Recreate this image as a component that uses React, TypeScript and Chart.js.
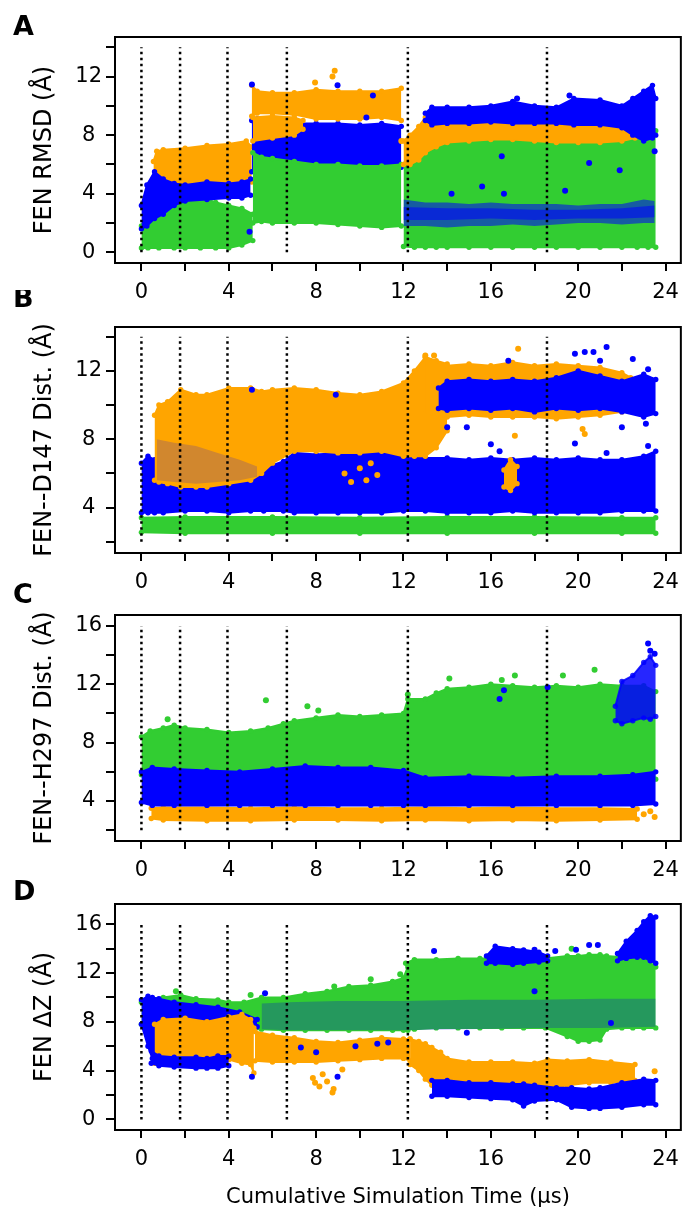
import { useEffect, useRef } from "react";
import { Chart, registerables } from "chart.js";

Chart.register(...registerables);

const FONT = '"DejaVu Sans", "Liberation Sans", sans-serif';
const BLUE = "#0000ff";
const BLUE_MIX = "rgba(0,0,255,0.55)";
const BLUE_DENSE = "rgba(0,0,255,0.85)";
const BLUE_STRIPE = "rgba(0,0,215,0.26)";
const ORANGE = "#ffa500";
const GREEN = "#32cd32";

// ---------------- shared axis data ----------------
const xRange = [-1.21, 24.7];
const xTicks = [0, 2, 4, 6, 8, 10, 12, 14, 16, 18, 20, 22, 24];
const xLabels = [0, 4, 8, 12, 16, 20, 24];
const dividers = [0, 1.77, 3.94, 6.66, 12.2, 18.57];

// ---------------- Panel A : FEN RMSD ----------------
const aYRange = [-0.73, 14.7];
const aYTicks = [0, 2, 4, 6, 8, 10, 12, 14];
const aYLabels = [0, 4, 8, 12];
const aSpan = [0, 14];
// [time, low, high]
const aGreen1 = [[0.0, 0.3, 1.8], [0.3, 0.3, 2.8], [0.8, 0.3, 3.0], [1.5, 0.3, 3.4], [2.0, 0.3, 3.5], [2.7, 0.3, 3.8], [3.4, 0.3, 3.4], [4.0, 0.3, 3.2], [4.6, 0.5, 3.0], [5.1, 0.8, 2.6]];
const aOrange1 = [[0.55, 4.6, 6.2], [0.7, 4.6, 6.9], [1.0, 4.6, 7.0], [2.0, 4.6, 7.1], [3.0, 4.6, 7.3], [4.0, 4.6, 7.4], [4.8, 4.6, 7.6], [5.05, 4.8, 7.2]];
const aBlue1 = [[0.0, 1.6, 3.2], [0.25, 1.8, 4.6], [0.6, 2.3, 5.5], [1.0, 2.6, 5.0], [1.5, 3.2, 4.7], [2.0, 3.5, 4.6], [3.0, 3.6, 4.8], [4.0, 3.7, 4.7], [4.6, 3.7, 4.8], [5.0, 3.9, 5.0]];
const aBlue2 = [[5.05, 5.5, 9.0], [5.3, 5.8, 9.1], [6.0, 5.8, 8.8], [7.0, 5.8, 8.8], [8.0, 5.8, 8.8], [9.0, 5.8, 8.8], [10.0, 5.8, 8.7], [11.0, 5.8, 8.8], [11.9, 5.8, 8.6]];
const aGreen2 = [[5.1, 2.0, 6.8], [5.5, 2.1, 6.5], [6.0, 2.0, 6.4], [7.0, 2.0, 6.2], [8.0, 2.0, 6.0], [9.0, 1.9, 6.0], [10.0, 1.8, 5.9], [11.0, 1.7, 5.9], [11.9, 1.8, 6.0]];
const aOrange2 = [[5.05, 9.3, 11.4], [5.3, 9.5, 11.0], [6.0, 9.5, 10.9], [7.0, 9.4, 10.9], [8.0, 9.1, 11.1], [9.0, 9.1, 11.0], [10.0, 9.1, 11.0], [11.0, 9.2, 11.0], [11.9, 9.0, 11.2]];
const aOrange3 = [[5.1, 7.6, 9.2], [6.0, 7.8, 9.3], [7.0, 8.0, 9.2], [7.4, 8.4, 9.0]];
const aGreen3 = [[12.0, 0.4, 6.0], [12.5, 0.35, 6.3], [13.0, 0.35, 6.8], [13.5, 0.35, 7.2], [14.0, 0.35, 7.5], [15.0, 0.35, 7.6], [16.0, 0.35, 7.7], [17.0, 0.35, 7.7], [18.0, 0.35, 7.6], [19.0, 0.35, 7.6], [20.0, 0.35, 7.5], [21.0, 0.35, 7.6], [22.0, 0.35, 7.6], [22.7, 0.35, 7.8], [23.2, 0.35, 8.5], [23.55, 0.35, 8.3]];
const aOrange4 = [[12.0, 6.0, 7.6], [12.3, 6.0, 8.0], [12.7, 6.3, 8.6], [13.0, 6.8, 9.2], [13.5, 7.2, 9.5], [14.0, 7.5, 9.0], [15.0, 7.6, 9.0], [16.0, 7.7, 9.0], [17.0, 7.7, 8.9], [18.0, 7.6, 8.9], [19.0, 7.5, 9.0], [20.0, 7.5, 8.9], [21.0, 7.5, 8.8], [22.0, 7.6, 8.8], [22.6, 7.8, 8.6]];
const aBlue3 = [[13.0, 9.0, 9.5], [13.3, 8.7, 9.9], [14.0, 8.8, 9.9], [15.0, 8.8, 9.9], [16.0, 8.9, 10.0], [17.0, 8.8, 10.3], [18.0, 8.8, 10.0], [19.0, 8.8, 9.9], [19.8, 8.7, 10.5], [21.0, 8.7, 10.4], [22.0, 8.5, 10.0], [22.5, 8.0, 10.5], [23.0, 7.6, 11.0], [23.4, 7.8, 11.4], [23.55, 8.0, 10.5]];
const aBlue4 = [[12.0, 1.8, 3.6], [13.0, 1.8, 3.4], [14.0, 1.7, 3.4], [15.0, 1.8, 3.3], [16.0, 1.8, 3.4], [17.0, 1.9, 3.3], [18.0, 1.8, 3.3], [19.0, 1.9, 3.3], [20.0, 2.0, 3.2], [21.0, 2.0, 3.3], [22.0, 1.9, 3.3], [23.0, 2.0, 3.6], [23.5, 2.0, 3.5]];
const aBlue4Core = [[12.0, 2.2, 3.1], [14.0, 2.2, 3.0], [16.0, 2.3, 3.0], [18.0, 2.2, 2.9], [20.0, 2.3, 2.9], [22.0, 2.3, 3.0], [23.5, 2.4, 3.2]];
// [time, value]
const aOrangePts = [[7.95, 11.6], [8.75, 12.0], [8.85, 12.4], [11.9, 7.6]];
const aBluePts = [[5.06, 11.45], [8.98, 11.4], [10.3, 9.2], [10.6, 10.7], [4.95, 1.4], [14.2, 4.0], [15.6, 4.5], [16.5, 6.55], [16.6, 4.0], [19.4, 4.2], [20.5, 6.1], [21.9, 5.6], [23.5, 6.9], [17.2, 10.5], [19.6, 10.7]];

// ---------------- Panel B : FEN--D147 ----------------
const bYRange = [1.34, 14.57];
const bYTicks = [2, 4, 6, 8, 10, 12, 14];
const bYLabels = [4, 8, 12];
const bSpan = [2, 14];
const bGreen = [[0.0, 2.55, 3.4], [2.0, 2.5, 3.45], [6.0, 2.5, 3.45], [10.0, 2.5, 3.4], [14.0, 2.5, 3.45], [18.0, 2.5, 3.45], [22.0, 2.5, 3.4], [23.55, 2.5, 3.4]];
const bBlue1 = [[0.0, 3.7, 6.6], [0.3, 3.7, 7.0], [0.6, 3.7, 6.8], [1.0, 3.7, 6.0], [2.0, 3.8, 5.6], [3.0, 3.8, 5.4], [4.0, 3.7, 5.6], [5.0, 3.8, 5.8], [5.6, 3.8, 6.3], [6.5, 3.8, 6.7], [7.0, 3.7, 7.2], [8.0, 3.7, 7.1], [9.0, 3.7, 7.2], [10.0, 3.7, 7.3], [11.0, 3.7, 7.2], [12.0, 3.8, 7.0], [13.0, 3.8, 6.9], [14.0, 3.7, 6.9], [15.0, 3.7, 6.8], [16.0, 3.7, 6.9], [17.0, 3.8, 6.8], [18.0, 3.7, 6.9], [19.0, 3.7, 6.8], [20.0, 3.7, 6.9], [21.0, 3.7, 6.8], [22.0, 3.8, 6.8], [23.0, 3.8, 7.0], [23.55, 3.8, 7.3]];
const bOrange1 = [[0.6, 5.6, 9.4], [0.8, 5.5, 10.0], [1.2, 5.4, 10.2], [1.8, 5.2, 10.9], [2.5, 5.2, 10.6], [3.0, 5.2, 10.6], [4.0, 5.4, 11.0], [5.0, 5.6, 11.0], [5.5, 6.0, 10.8], [6.0, 6.6, 10.9], [7.0, 7.3, 11.0], [8.0, 7.3, 10.9], [9.0, 7.2, 10.7], [10.0, 7.2, 10.6], [11.0, 7.3, 10.8], [12.0, 7.0, 11.3], [12.5, 7.0, 12.0], [13.0, 7.0, 12.8], [13.5, 7.5, 12.6], [14.0, 8.5, 12.4]];
const bBlueSpeck = [[0.7, 5.6, 8.0], [1.5, 5.5, 7.8], [2.5, 5.4, 7.6], [3.5, 5.5, 7.2], [4.5, 5.6, 6.8], [5.3, 5.8, 6.4]];
const bOrange2 = [[13.0, 9.5, 12.8], [14.0, 9.3, 12.3], [15.0, 9.4, 12.4], [16.0, 9.3, 12.3], [17.0, 9.3, 12.5], [18.0, 9.3, 12.3], [19.0, 9.2, 12.4], [20.0, 9.3, 12.3], [21.0, 9.4, 12.2], [22.0, 9.6, 11.9], [22.4, 9.8, 11.6]];
const bBlue2 = [[13.6, 9.8, 11.0], [14.0, 9.7, 11.4], [15.0, 9.8, 11.5], [16.0, 9.7, 11.4], [17.0, 9.8, 11.5], [18.0, 9.6, 11.4], [19.0, 9.8, 11.6], [20.0, 9.7, 12.0], [21.0, 9.8, 11.7], [22.0, 9.6, 11.4], [23.0, 9.3, 11.8], [23.55, 9.5, 11.5]];
const bOrange3 = [[16.6, 5.2, 6.2], [16.9, 5.0, 6.8], [17.2, 5.4, 6.4]];
const bBluePts = [[5.06, 10.9], [8.9, 10.6], [14.0, 8.7], [14.9, 8.7], [16.0, 7.7], [16.4, 7.3], [19.85, 7.75], [21.3, 7.2], [22.0, 8.7], [23.1, 8.9], [23.2, 7.6], [19.85, 13.0], [20.3, 13.1], [20.7, 13.1], [21.3, 13.4], [22.5, 12.7], [23.2, 12.1], [16.8, 12.6], [21.0, 12.6]];
const bOrangePts = [[17.1, 8.2], [20.2, 8.6], [20.3, 8.3], [17.25, 13.3], [13.0, 12.9], [13.4, 12.9], [9.3, 6.0], [9.6, 5.5], [10.0, 6.3], [10.3, 5.6], [10.5, 6.6], [10.8, 5.9]];

// ---------------- Panel C : FEN--H297 ----------------
const cYRange = [1.26, 16.75];
const cYTicks = [2, 4, 6, 8, 10, 12, 14, 16];
const cYLabels = [4, 8, 12, 16];
const cSpan = [2, 16];
const cOrange = [[0.45, 2.8, 3.5], [1.0, 2.7, 3.55], [3.0, 2.65, 3.55], [5.0, 2.65, 3.5], [7.0, 2.7, 3.55], [9.0, 2.7, 3.5], [11.0, 2.65, 3.5], [13.0, 2.7, 3.55], [15.0, 2.65, 3.5], [17.0, 2.7, 3.55], [19.0, 2.65, 3.5], [21.0, 2.7, 3.5], [22.7, 2.75, 3.45]];
const cGreen = [[0.0, 5.8, 8.4], [0.4, 5.8, 8.8], [1.0, 5.9, 9.0], [1.5, 5.9, 9.2], [2.0, 5.9, 9.0], [3.0, 5.9, 8.9], [4.0, 5.9, 8.7], [5.0, 5.9, 8.8], [5.8, 5.9, 9.0], [6.5, 5.9, 9.3], [7.0, 5.9, 9.5], [8.0, 5.9, 9.7], [9.0, 5.9, 9.9], [10.0, 5.9, 9.8], [11.0, 5.9, 9.9], [12.0, 5.9, 10.0], [12.2, 5.5, 11.0], [13.0, 5.5, 11.0], [13.5, 5.5, 11.4], [14.0, 5.5, 11.7], [15.0, 5.5, 11.8], [16.0, 5.5, 12.0], [17.0, 5.5, 11.9], [18.0, 5.5, 11.8], [19.0, 5.5, 11.9], [20.0, 5.5, 11.8], [21.0, 5.5, 12.0], [22.0, 5.5, 11.9], [23.0, 5.5, 11.9], [23.55, 5.5, 11.5]];
const cBlue1 = [[0.0, 3.9, 6.0], [0.5, 3.7, 6.3], [1.5, 3.7, 6.2], [3.0, 3.7, 6.1], [4.5, 3.7, 6.0], [6.0, 3.7, 6.2], [7.5, 3.7, 6.4], [9.0, 3.7, 6.3], [10.5, 3.7, 6.3], [12.0, 3.7, 6.1], [13.0, 3.7, 5.6], [15.0, 3.7, 5.7], [17.0, 3.7, 5.6], [19.0, 3.7, 5.7], [21.0, 3.7, 5.7], [22.5, 3.7, 5.8], [23.55, 3.8, 6.0]];
const cBlue2 = [[21.7, 9.5, 10.5], [22.0, 9.3, 12.2], [22.5, 9.5, 12.6], [23.0, 9.7, 13.5], [23.3, 9.6, 13.9], [23.55, 9.8, 13.3]];
const cGreenPts = [[1.2, 9.6], [5.7, 10.9], [7.6, 10.5], [8.1, 10.2], [14.1, 12.4], [16.5, 12.3], [17.1, 12.6], [19.3, 12.6], [20.75, 13.0], [12.2, 11.3]];
const cBluePts = [[23.2, 14.8], [23.3, 14.3], [23.5, 14.1], [16.6, 11.6], [16.4, 11.0], [18.6, 11.8]];
const cOrangePts = [[23.0, 3.1], [23.3, 3.3], [23.5, 2.9]];

// ---------------- Panel D : FEN dZ ----------------
const dYRange = [-0.87, 17.66];
const dYTicks = [0, 2, 4, 6, 8, 10, 12, 14, 16];
const dYLabels = [0, 4, 8, 12, 16];
const dSpan = [0, 16];
const dGreen1 = [[0.0, 7.8, 9.6], [0.3, 7.9, 9.9], [1.0, 8.5, 10.0], [1.8, 8.5, 10.2], [2.5, 8.5, 9.9], [3.5, 8.4, 9.8], [4.0, 8.0, 9.6], [4.7, 7.4, 9.6], [5.5, 7.4, 10.0], [6.5, 7.3, 10.0], [7.5, 7.3, 10.3], [8.5, 7.3, 10.5], [9.5, 7.3, 10.9], [10.5, 7.3, 11.0], [11.5, 7.3, 11.3], [12.0, 7.3, 11.6], [12.2, 7.3, 12.5]];
const dGreen2 = [[12.1, 7.4, 12.8], [12.5, 7.4, 13.1], [13.5, 7.5, 13.1], [14.5, 7.5, 13.2], [15.5, 7.5, 13.2], [16.5, 7.5, 13.2], [17.5, 7.5, 13.2], [18.5, 7.5, 13.2], [19.5, 6.8, 13.4], [20.0, 6.4, 13.4], [20.5, 6.4, 13.5], [21.0, 6.5, 13.5], [21.3, 7.4, 13.4], [22.0, 7.5, 13.3], [22.5, 7.5, 13.4], [23.0, 7.5, 13.3], [23.55, 7.5, 12.5]];
const dBlueStripes = [[5.5, 7.4, 9.5], [6.7, 7.3, 9.6], [9.0, 7.3, 9.7], [12.0, 7.3, 9.7], [15.0, 7.4, 9.8], [18.0, 7.5, 9.8], [21.0, 7.5, 9.9], [23.55, 7.6, 9.9]];
const dBlueTop1 = [[0.0, 7.8, 9.8], [0.3, 6.0, 10.1], [0.5, 5.0, 10.0], [0.8, 7.0, 9.9], [1.5, 7.8, 9.6], [2.5, 7.6, 9.4], [3.5, 7.8, 9.2], [4.5, 7.9, 8.8], [5.3, 7.6, 8.2]];
const dOrange1 = [[0.6, 4.6, 7.8], [1.0, 4.8, 8.2], [2.0, 5.0, 8.3], [3.0, 5.0, 8.0], [4.0, 4.9, 8.4], [4.6, 4.6, 8.6], [5.0, 4.5, 8.2], [5.15, 3.8, 7.5]];
const dOrange2 = [[5.2, 4.8, 7.2], [6.0, 4.7, 6.9], [7.0, 4.7, 6.7], [8.0, 4.7, 6.4], [9.0, 4.8, 6.3], [10.0, 4.9, 6.5], [11.0, 5.0, 6.7], [12.0, 5.0, 6.6], [12.3, 4.8, 6.6]];
const dOrange3 = [[12.3, 4.5, 6.6], [12.7, 4.0, 6.4], [13.0, 3.3, 6.2], [13.3, 2.8, 5.9], [13.7, 3.0, 5.5], [14.0, 3.0, 5.0], [15.0, 3.0, 4.7], [16.0, 3.1, 4.7], [17.0, 3.0, 4.7], [18.0, 2.9, 4.6], [18.6, 2.5, 4.9], [19.5, 2.8, 4.8], [20.5, 3.0, 4.9], [21.5, 3.0, 4.7], [22.6, 3.2, 4.5]];
const dBlueLow1 = [[0.45, 4.6, 5.6], [0.8, 4.4, 5.2], [1.5, 4.3, 5.1], [2.5, 4.2, 5.1], [3.0, 4.2, 5.0], [3.5, 4.2, 5.2], [4.0, 4.4, 5.2]];
const dBlueLow2 = [[13.3, 1.9, 3.2], [14.0, 1.9, 3.2], [15.0, 1.8, 3.0], [16.0, 1.7, 3.0], [17.0, 1.6, 2.9], [17.5, 1.1, 2.9], [18.0, 1.5, 2.8], [19.0, 1.6, 2.6], [19.7, 1.0, 2.6], [20.5, 0.9, 2.5], [21.0, 0.9, 2.6], [22.0, 1.0, 3.0], [23.0, 1.2, 3.3], [23.55, 1.2, 3.2]];
const dBlueTop2 = [[15.8, 12.8, 13.4], [16.2, 12.8, 14.2], [17.0, 12.7, 14.0], [17.5, 12.8, 13.9], [18.2, 12.9, 13.7], [18.6, 13.0, 13.4]];
const dBlueTop3 = [[21.8, 13.0, 13.6], [22.2, 13.2, 14.6], [22.7, 13.3, 15.5], [23.0, 13.3, 16.2], [23.3, 13.0, 16.7], [23.55, 12.8, 16.6]];
const dBluePts = [[5.66, 10.35], [8.98, 3.5], [5.06, 3.5], [13.4, 13.8], [18.0, 13.9], [18.95, 13.8], [19.9, 13.9], [20.5, 14.3], [20.9, 14.3], [18.0, 10.5], [14.9, 7.1], [21.5, 7.9], [7.3, 5.9], [8.0, 5.5], [9.8, 6.0], [10.8, 6.2], [11.3, 6.3]];
const dOrangePts = [[7.85, 3.4], [8.15, 2.7], [8.5, 3.1], [8.75, 2.2], [8.8, 2.5], [9.2, 4.1], [8.3, 3.7], [7.95, 3.0], [23.5, 3.95]];
const dGreenPts = [[1.58, 10.5], [8.83, 10.9], [10.5, 11.5], [11.85, 11.9], [19.7, 14.0], [5.0, 10.2]];

// ---------------- panel definitions ----------------
type Layer = { band?: number[][]; pts?: number[][]; color: string; flat?: boolean };
type PanelCfg = {
  letter: string;
  title: string;
  yRange: number[];
  yTicks: number[];
  yLabels: number[];
  span: number[];
  layers: Layer[];
};

const panels: PanelCfg[] = [
  {
    letter: "A", title: "FEN RMSD (Å)", yRange: aYRange, yTicks: aYTicks, yLabels: aYLabels, span: aSpan,
    layers: [
      { band: aGreen1, color: GREEN },
      { band: aOrange1, color: ORANGE },
      { band: aBlue1, color: BLUE },
      { band: aBlue2, color: BLUE },
      { band: aGreen2, color: GREEN },
      { band: aOrange2, color: ORANGE },
      { band: aOrange3, color: ORANGE },
      { band: aGreen3, color: GREEN },
      { band: aOrange4, color: ORANGE },
      { band: aBlue3, color: BLUE },
      { band: aBlue4, color: BLUE_MIX, flat: true },
      { band: aBlue4Core, color: BLUE_MIX, flat: true },
      { pts: aOrangePts, color: ORANGE },
      { pts: aBluePts, color: BLUE },
    ],
  },
  {
    letter: "B", title: "FEN--D147 Dist. (Å)", yRange: bYRange, yTicks: bYTicks, yLabels: bYLabels, span: bSpan,
    layers: [
      { band: bGreen, color: GREEN },
      { band: bBlue1, color: BLUE },
      { band: bOrange1, color: ORANGE },
      { band: bBlueSpeck, color: "rgba(0,0,255,0.18)", flat: true },
      { band: bOrange2, color: ORANGE },
      { band: bBlue2, color: BLUE },
      { band: bOrange3, color: ORANGE },
      { pts: bOrangePts, color: ORANGE },
      { pts: bBluePts, color: BLUE },
    ],
  },
  {
    letter: "C", title: "FEN--H297 Dist. (Å)", yRange: cYRange, yTicks: cYTicks, yLabels: cYLabels, span: cSpan,
    layers: [
      { band: cOrange, color: ORANGE },
      { band: cGreen, color: GREEN },
      { band: cBlue1, color: BLUE },
      { band: cBlue2, color: BLUE_DENSE },
      { pts: cGreenPts, color: GREEN },
      { pts: cBluePts, color: BLUE },
      { pts: cOrangePts, color: ORANGE },
    ],
  },
  {
    letter: "D", title: "FEN ΔZ (Å)", yRange: dYRange, yTicks: dYTicks, yLabels: dYLabels, span: dSpan,
    layers: [
      { band: dGreen1, color: GREEN },
      { band: dGreen2, color: GREEN },
      { band: dBlueStripes, color: BLUE_STRIPE, flat: true },
      { band: dBlueTop1, color: BLUE },
      { band: dOrange1, color: ORANGE },
      { band: dOrange2, color: ORANGE },
      { band: dOrange3, color: ORANGE },
      { band: dBlueLow1, color: BLUE },
      { band: dBlueLow2, color: BLUE },
      { band: dBlueTop2, color: BLUE },
      { band: dBlueTop3, color: BLUE },
      { pts: dGreenPts, color: GREEN },
      { pts: dOrangePts, color: ORANGE },
      { pts: dBluePts, color: BLUE },
    ],
  },
];

// layout of each canvas on the page
const geometry = [
  { top: 0, height: 310, letterY: 28, xTitle: false },
  { top: 290, height: 310, letterY: 10, xTitle: false },
  { top: 578, height: 310, letterY: 18, xTitle: false },
  { top: 867, height: 343, letterY: 26, xTitle: true },
];
const BOX_TOP = 37;
const BOX_H = 226;
const Y_AXIS_W = 115;

function buildDatasets(cfg: PanelCfg) {
  const ds: any[] = [];
  cfg.layers.forEach((layer) => {
    const c = layer.color;
    const base = {
      type: "line",
      borderColor: c,
      backgroundColor: c,
      pointBackgroundColor: c,
      pointBorderWidth: 0,
      pointHoverRadius: 0,
      tension: 0,
    };
    if (layer.band) {
      const lo = ds.length;
      const bw = layer.flat ? 0 : 2;
      const pr = layer.flat ? 0 : 2.7;
      ds.push({ ...base, data: layer.band.map((r) => ({ x: r[0], y: r[1] })), borderWidth: bw, pointRadius: pr, fill: false });
      ds.push({ ...base, data: layer.band.map((r) => ({ x: r[0], y: r[2] })), borderWidth: bw, pointRadius: pr, fill: lo });
    } else if (layer.pts) {
      ds.push({ ...base, data: layer.pts.map((p) => ({ x: p[0], y: p[1] })), showLine: false, borderWidth: 0, pointRadius: 3, fill: false });
    }
  });
  dividers.forEach((d) => {
    ds.push({
      type: "line",
      data: [{ x: d, y: cfg.span[0] }, { x: d, y: cfg.span[1] }],
      borderColor: "#000",
      borderWidth: 2.5,
      borderDash: [2.5, 3.5],
      pointRadius: 0,
      fill: false,
    });
  });
  ds.forEach((d, i) => {
    d.order = 100000 - i;
  });
  return ds;
}

function Panel({ cfg, geo }: { cfg: PanelCfg; geo: typeof geometry[number] }) {
  const ref = useRef<HTMLCanvasElement>(null);
  useEffect(() => {
    const xH = geo.height - BOX_TOP - BOX_H;
    const framePlugin = {
      id: "frame" + cfg.letter,
      afterDraw(chart: any) {
        const { ctx, chartArea } = chart;
        const { left, top, right, bottom } = chartArea;
        ctx.save();
        ctx.strokeStyle = "#000";
        ctx.lineWidth = 2;
        ctx.strokeRect(left, top, right - left, bottom - top);
        ctx.fillStyle = "#000";
        ctx.font = `bold 27px ${FONT}`;
        ctx.textAlign = "left";
        ctx.textBaseline = "middle";
        ctx.fillText(cfg.letter, 13, geo.letterY);
        ctx.restore();
      },
    };
    const chart = new Chart(ref.current as HTMLCanvasElement, {
      type: "line",
      data: { datasets: buildDatasets(cfg) },
      options: {
        responsive: false,
        animation: false,
        events: [],
        layout: { padding: { top: BOX_TOP, left: 0, right: 1, bottom: 0 } },
        plugins: { legend: { display: false }, tooltip: { enabled: false } },
        scales: {
          x: {
            type: "linear",
            min: xRange[0],
            max: xRange[1],
            afterFit: (s: any) => {
              s.height = xH;
            },
            afterBuildTicks: (s: any) => {
              s.ticks = xTicks.map((v) => ({ value: v }));
            },
            ticks: {
              autoSkip: false,
              maxRotation: 0,
              padding: 9,
              color: "#000",
              font: { family: FONT, size: 21 },
              callback: (v: any) => (xLabels.includes(Number(v)) ? String(v) : ""),
            },
            grid: { drawOnChartArea: false, drawTicks: true, tickLength: 8, color: "#000", lineWidth: 2 },
            border: { display: false },
            title: {
              display: geo.xTitle,
              text: "Cumulative Simulation Time (μs)",
              color: "#000",
              font: { family: FONT, size: 21 },
              padding: { top: 0, bottom: 0 },
            },
          },
          y: {
            type: "linear",
            min: cfg.yRange[0],
            max: cfg.yRange[1],
            afterFit: (s: any) => {
              s.width = Y_AXIS_W;
            },
            afterBuildTicks: (s: any) => {
              s.ticks = cfg.yTicks.map((v) => ({ value: v }));
            },
            ticks: {
              autoSkip: false,
              crossAlign: "center",
              padding: 4,
              color: "#000",
              font: { family: FONT, size: 21 },
              callback: (v: any) => (cfg.yLabels.includes(Number(v)) ? String(v) : ""),
            },
            grid: { drawOnChartArea: false, drawTicks: true, tickLength: 9, color: "#000", lineWidth: 2 },
            border: { display: false },
            title: {
              display: true,
              text: cfg.title,
              color: "#000",
              font: { family: FONT, size: 24 },
              padding: { top: 30, bottom: 0 },
            },
          },
        },
      } as any,
      plugins: [framePlugin],
    } as any);
    return () => chart.destroy();
  }, []);
  return (
    <canvas
      ref={ref}
      width={688}
      height={geo.height}
      style={{ position: "absolute", left: 0, top: geo.top, width: 688, height: geo.height }}
    />
  );
}

export default function App() {
  return (
    <div style={{ position: "absolute", left: 0, top: 0, width: 688, height: 1210, background: "#fff", overflow: "hidden" }}>
      {panels.map((p, i) => (
        <Panel key={p.letter} cfg={p} geo={geometry[i]} />
      ))}
    </div>
  );
}
